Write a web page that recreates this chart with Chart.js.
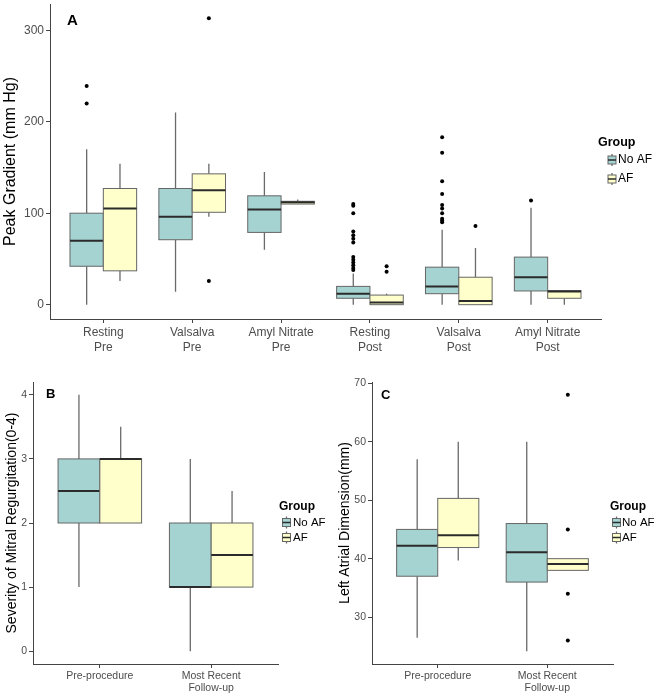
<!DOCTYPE html>
<html>
<head>
<meta charset="utf-8">
<script src="https://cdn.jsdelivr.net/npm/chart.js@4.4.0/dist/chart.umd.min.js"></script>
<style>
    body { margin: 0; background: #fff; }
    .panel { position: absolute; }
</style>
</head>
<body>
<div class="panel" style="left:0;top:0;width:660px;height:360px"><canvas id="chartA"></canvas></div>
<div class="panel" style="left:0;top:370px;width:330px;height:330px"><canvas id="chartB"></canvas></div>
<div class="panel" style="left:330px;top:370px;width:330px;height:330px"><canvas id="chartC"></canvas></div>
<script>
// Données - panneau A (gradient de pointe)
// chaque boîte : [moustache basse, Q1, médiane, Q3, moustache haute]
const catsA = [['Resting', 'Pre'], ['Valsalva', 'Pre'], ['Amyl Nitrate', 'Pre'],
               ['Resting', 'Post'], ['Valsalva', 'Post'], ['Amyl Nitrate', 'Post']];
const noAfA = [[0, 42, 70, 100, 170], [14, 71, 96, 127, 210], [60, 79, 104, 119, 145],
               [0, 7, 12, 20, 34], [0, 12, 20, 41, 82], [0, 15, 30, 52, 106]];
const afA = [[26, 37, 105, 127, 154], [96, 101, 125, 143, 154], [110, 110, 112, 113, 115],
             [0, 0, 2.5, 10.5, 12], [0, 0, 4, 30, 62], [0, 7, 14.5, 15.5, 15.5]];
const noAfOutA = [[239, 220], [], [], [110, 108, 100, 80, 76, 72, 68, 52, 49, 46, 43, 40, 38],
                  [183, 166, 135, 121, 109, 105, 100, 94, 92, 90], [114]];
const afOutA = [[], [313, 26], [], [42, 36], [86], []];
const ticksA = [0, 100, 200, 300];

// Données - panneaux B et C
const catsBC = [['Pre-procedure'], ['Most Recent', 'Follow-up']];
const noAfB = [[1, 2, 2.5, 3, 4], [0, 1, 1, 2, 3]];
const afB = [[2, 2, 3, 3, 3.5], [1, 1, 1.5, 2, 2.5]];
const ticksB = [0, 1, 2, 3, 4];
const noAfC = [[26.5, 37, 42.2, 45, 57], [24.2, 36, 41.1, 46, 60]];
const afC = [[39.7, 41.9, 44, 50.3, 60], [38, 38, 39.1, 40, 40]];
const afOutC = [[], [68, 45, 34, 26]];
const ticksC = [30, 40, 50, 60, 70];

const FILL_NO_AF = '#a4d3d1';
const FILL_AF = '#ffffcc';
const FONT = "'Liberation Sans', Arial, sans-serif";

Chart.defaults.font.family = FONT;
Chart.defaults.color = '#4d4d4d';

// Boîte style ggplot, en pixels
function drawBox(ctx, x, halfW, yLo, yQ1, yMed, yQ3, yHi, fill, medW) {
    ctx.strokeStyle = '#6a6a6a';
    ctx.lineWidth = 1.3;
    ctx.beginPath();
    ctx.moveTo(x, yHi); ctx.lineTo(x, yQ3);
    ctx.moveTo(x, yQ1); ctx.lineTo(x, yLo);
    ctx.stroke();
    ctx.fillStyle = fill;
    ctx.fillRect(x - halfW, yQ3, 2 * halfW, yQ1 - yQ3);
    ctx.strokeStyle = '#666';
    ctx.lineWidth = 1;
    ctx.strokeRect(x - halfW, yQ3, 2 * halfW, yQ1 - yQ3);
    ctx.strokeStyle = '#2b2b2b';
    ctx.lineWidth = medW;
    ctx.beginPath();
    ctx.moveTo(x - halfW, yMed); ctx.lineTo(x + halfW, yMed);
    ctx.stroke();
}

const boxPlugin = {
    id: 'boxes',
    beforeDatasetsDraw(chart, args, opts) {
        const { ctx, scales: { x, y } } = chart;
        const hw = x.getPixelForValue(0.1875) - x.getPixelForValue(0);
        ctx.save();
        opts.groups.forEach(g => {
            g.stats.forEach((s, i) => {
                const p = s.map(v => y.getPixelForValue(v));
                drawBox(ctx, x.getPixelForValue(i + g.offset), hw, p[0], p[1], p[2], p[3], p[4], g.fill, 2);
            });
        });
        ctx.restore();
    },
    afterDraw(chart, args, opts) {
        const ctx = chart.ctx;
        const lg = opts.legend;
        ctx.save();
        // lettre du panneau
        ctx.fillStyle = '#000';
        ctx.textBaseline = 'alphabetic';
        ctx.font = `bold ${opts.letterSize}px ${FONT}`;
        ctx.fillText(opts.letter, opts.letterX, opts.letterY);
        // légende
        ctx.textBaseline = 'middle';
        ctx.font = `bold ${lg.titleSize}px ${FONT}`;
        ctx.fillText('Group', lg.x, lg.titleY);
        opts.groups.forEach((g, k) => {
            const cy = lg.itemY + k * lg.gap;
            drawBox(ctx, lg.iconX, 4, cy + 6, cy + 4, cy, cy - 4, cy - 6, g.fill, 1.5);
            ctx.fillStyle = '#000';
            ctx.font = `${lg.size}px ${FONT}`;
            ctx.fillText(g.label, lg.textX, cy);
        });
        ctx.restore();
    }
};

function outlierPoints(lists, offset) {
    const pts = [];
    lists.forEach((vals, i) => vals.forEach(v => pts.push({ x: i + offset, y: v })));
    return pts;
}

function makeChart(id, c) {
    return new Chart(document.getElementById(id), {
        type: 'scatter',
        data: {
            datasets: [
                { label: 'No AF', data: outlierPoints(c.noAfOut, -0.1875), backgroundColor: '#000', borderWidth: 0, pointRadius: 2 },
                { label: 'AF', data: outlierPoints(c.afOut, 0.1875), backgroundColor: '#000', borderWidth: 0, pointRadius: 2 }
            ]
        },
        options: {
            responsive: true,
            maintainAspectRatio: false,
            animation: false,
            layout: { padding: c.padding },
            plugins: {
                legend: { display: false },
                tooltip: { enabled: false },
                boxes: {
                    groups: [
                        { label: 'No AF', stats: c.noAf, offset: -0.1875, fill: FILL_NO_AF },
                        { label: 'AF', stats: c.af, offset: 0.1875, fill: FILL_AF }
                    ],
                    letter: c.letter, letterX: c.letterX, letterY: c.letterY, letterSize: c.letterSize,
                    legend: c.legend
                }
            },
            scales: {
                x: {
                    type: 'linear',
                    min: -0.6,
                    max: c.cats.length - 0.4,
                    afterBuildTicks: s => { s.ticks = c.cats.map((_, i) => ({ value: i })); },
                    afterFit: s => { s.height = c.xHeight; s.paddingLeft = 0; s.paddingRight = 0; },
                    ticks: {
                        callback: v => c.cats[v],
                        font: { size: c.tickSize, lineHeight: c.tickLH },
                        color: '#4d4d4d',
                        padding: 2,
                        maxRotation: 0
                    },
                    grid: { drawOnChartArea: false, tickLength: 4, color: '#444' },
                    border: { color: '#444' }
                },
                y: {
                    min: c.yMin,
                    max: c.yMax,
                    afterBuildTicks: s => { s.ticks = c.yTicks.map(v => ({ value: v })); },
                    // largeur fixe et pas de marge pour les libellés extrêmes
                    afterFit: s => { s.width = c.yWidth; s.paddingTop = 0; s.paddingBottom = 0; },
                    ticks: { font: { size: c.tickSize }, color: '#4d4d4d', padding: 2 },
                    grid: { drawOnChartArea: false, tickLength: 4, color: '#444' },
                    border: { color: '#444' },
                    title: {
                        display: true,
                        text: c.yTitle,
                        color: '#000',
                        font: { size: c.titleSize },
                        padding: { top: c.titlePad, bottom: 0 }
                    }
                }
            }
        },
        plugins: [boxPlugin]
    });
}

makeChart('chartA', {
    cats: catsA, noAf: noAfA, af: afA, noAfOut: noAfOutA, afOut: afOutA,
    yMin: -15.65, yMax: 328.65, yTicks: ticksA, yTitle: 'Peak Gradient (mm Hg)',
    padding: { top: 3, right: 59, bottom: 0, left: 0 }, xHeight: 41, yWidth: 50,
    tickSize: 12, tickLH: 1.25, titleSize: 16, titlePad: 1,
    letter: 'A', letterX: 67, letterY: 25, letterSize: 15,
    legend: { x: 598, titleY: 143, titleSize: 12.5, iconX: 612, textX: 618, itemY: 160, gap: 19, size: 12 }
});

makeChart('chartB', {
    cats: catsBC, noAf: noAfB, af: afB, noAfOut: [[], []], afOut: [[], []],
    yMin: -0.2, yMax: 4.2, yTicks: ticksB, yTitle: 'Severity of Mitral Regurgitation(0-4)',
    padding: { top: 12, right: 52, bottom: 0, left: 0 }, xHeight: 36, yWidth: 33,
    tickSize: 10.5, tickLH: 1.15, titleSize: 14, titlePad: 4,
    letter: 'B', letterX: 46, letterY: 28, letterSize: 13,
    legend: { x: 279, titleY: 137, titleSize: 12, iconX: 286.5, textX: 293, itemY: 152.5, gap: 15, size: 11.5 }
});

makeChart('chartC', {
    cats: catsBC, noAf: noAfC, af: afC, noAfOut: [[], []], afOut: afOutC,
    yMin: 22.0, yMax: 70.19, yTicks: ticksC, yTitle: 'Left Atrial Dimension(mm)',
    padding: { top: 12, right: 47, bottom: 0, left: 0 }, xHeight: 36, yWidth: 42,
    tickSize: 10.5, tickLH: 1.15, titleSize: 14, titlePad: 7,
    letter: 'C', letterX: 51, letterY: 29, letterSize: 13,
    legend: { x: 280, titleY: 137, titleSize: 12, iconX: 286.5, textX: 292, itemY: 152.5, gap: 15, size: 11.5 }
});
</script>
</body>
</html>
